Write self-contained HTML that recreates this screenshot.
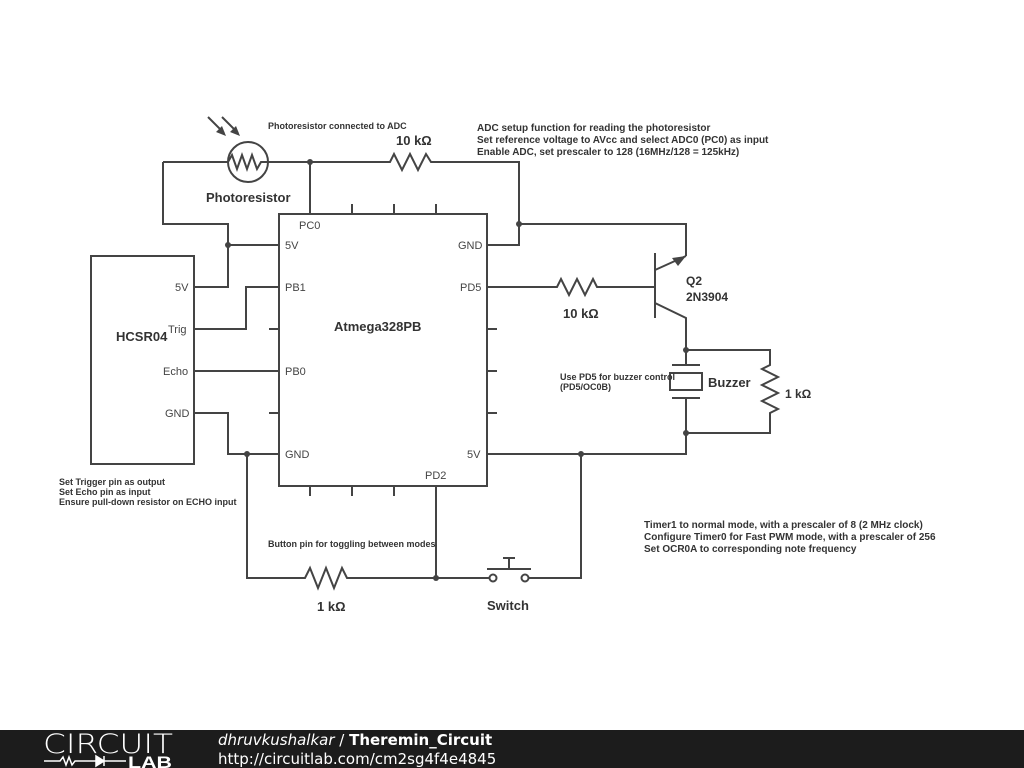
<!DOCTYPE html>
<html><head><style>
body{margin:0;width:1024px;height:768px;background:#fff;overflow:hidden;font-family:"Liberation Sans",sans-serif}
svg{position:absolute;left:0;top:0}
</style></head><body>
<svg width="1024" height="768" viewBox="0 0 1024 768">
<g stroke="#444" stroke-width="2" fill="none">
<rect x="279" y="214" width="208" height="272"/>
<rect x="91" y="256" width="103" height="208"/>
<path d="M352 204V214M394 204V214M436 204V214M310 486V496M352 486V496M394 486V496M269 329H279M269 413H279M487 329H497M487 371H497M487 413H497"/>
<circle cx="248" cy="162" r="20"/>
<path d="M163 162H228l4 -7 5 14 5 -14 5 14 5 -14 5 14 4 -7H310"/>
<path d="M310 162V214M310 162H390l4-8 8 16 8-16 8 16 8-16 5 8H519V245H487M519 224H686V256"/>
<path d="M163 162V224H228V245H279M194 287H228V245M194 329H246V287H279M194 371H279M194 413H228V454H279"/>
<path d="M247 454V578H305l5-10 8 20 8-20 8 20 8-20 5 10H436V486M436 578H490M528 578H581V454M487 454H686V433"/>
<path d="M487 287H557l4-8 8 16 8-16 8 16 8-16 4 8H655M655 253V318M655 270L686 256M655 303L686 318V350"/>
<path d="M686 350V365M672 365H700M672 398H700M686 398V433M686 350H770V365l-8 4 16 8-16 8 16 8-16 8 16 8-8 4V433H686"/>
<rect x="670" y="373" width="32" height="17"/>
<circle cx="493" cy="578" r="3.5"/><circle cx="525" cy="578" r="3.5"/>
<path d="M487 569H531M509 569V558M503 558H515"/>
<path d="M208 117L224 133M222 117L238 133"/>
</g>
<g fill="#444">
<path d="M686 256l-14 2 6 8z"/>
<path d="M226 136l-10-4 6-6zM240 136l-10-4 6-6z"/>
<circle cx="310" cy="162" r="3"/><circle cx="228" cy="245" r="3"/><circle cx="519" cy="224" r="3"/>
<circle cx="247" cy="454" r="3"/><circle cx="436" cy="578" r="3"/><circle cx="581" cy="454" r="3"/>
<circle cx="686" cy="350" r="3"/><circle cx="686" cy="433" r="3"/>
</g>
<g fill="#444" font-size="11">
<text x="299" y="229">PC0</text><text x="285" y="249">5V</text><text x="285" y="291">PB1</text><text x="285" y="375">PB0</text><text x="285" y="458">GND</text>
<text x="458" y="249">GND</text><text x="460" y="291">PD5</text><text x="467" y="458">5V</text><text x="425" y="479">PD2</text>
<text x="175" y="291">5V</text><text x="168" y="333">Trig</text><text x="163" y="375">Echo</text><text x="165" y="417">GND</text>
</g>
<g fill="#333" font-weight="bold">
<text x="334" y="331" font-size="13">Atmega328PB</text>
<text x="116" y="341" font-size="13">HCSR04</text>
<text x="206" y="202" font-size="13">Photoresistor</text>
<text x="396" y="145" font-size="13">10 kΩ</text>
<text x="563" y="318" font-size="13">10 kΩ</text>
<text x="686" y="285" font-size="12">Q2</text><text x="686" y="301" font-size="12">2N3904</text>
<text x="708" y="387" font-size="13">Buzzer</text>
<text x="785" y="398" font-size="12">1 kΩ</text>
<text x="317" y="611" font-size="13">1 kΩ</text>
<text x="487" y="610" font-size="13">Switch</text>
<g font-size="9">
<text x="268" y="129">Photoresistor connected to ADC</text>
<text x="560" y="380">Use PD5 for buzzer control</text><text x="560" y="390">(PD5/OC0B)</text>
<text x="59" y="485">Set Trigger pin as output</text><text x="59" y="495">Set Echo pin as input</text><text x="59" y="505">Ensure pull-down resistor on ECHO input</text>
<text x="268" y="547">Button pin for toggling between modes</text>
</g>
<g font-size="10">
<text x="477" y="131">ADC setup function for reading the photoresistor</text>
<text x="477" y="143">Set reference voltage to AVcc and select ADC0 (PC0) as input</text>
<text x="477" y="155">Enable ADC, set prescaler to 128 (16MHz/128 = 125kHz)</text>
<text x="644" y="528">Timer1 to normal mode, with a prescaler of 8 (2 MHz clock)</text>
<text x="644" y="540">Configure Timer0 for Fast PWM mode, with a prescaler of 256</text>
<text x="644" y="552">Set OCR0A to corresponding note frequency</text>
</g>
</g>
<rect x="0" y="730" width="1024" height="38" fill="#1c1c1c"/>
<text x="43" y="753" fill="#fff" font-size="27" font-family="DejaVu Sans" font-weight="200" textLength="130" lengthAdjust="spacingAndGlyphs">CIRCUIT</text>
<path d="M44 761H60l3-4 3 8 3-8 3 8 3-4H86M86 761h10M104 761h22" stroke="#fff" stroke-width="1.5" fill="none"/>
<path d="M96 756v10l8-5zM104 756v10" stroke="#fff" stroke-width="1.5" fill="#fff"/>
<text x="128" y="768" fill="#fff" font-size="17" font-weight="bold" textLength="44" lengthAdjust="spacingAndGlyphs">LAB</text>
<text x="218" y="745" fill="#fff" font-size="15" font-family="DejaVu Sans"><tspan font-style="italic">dhruvkushalkar</tspan> / <tspan font-weight="bold">Theremin_Circuit</tspan></text>
<text x="218" y="764" fill="#fff" font-size="15" font-family="DejaVu Sans">http://circuitlab.com/cm2sg4f4e4845</text>
</svg>
</body></html>
